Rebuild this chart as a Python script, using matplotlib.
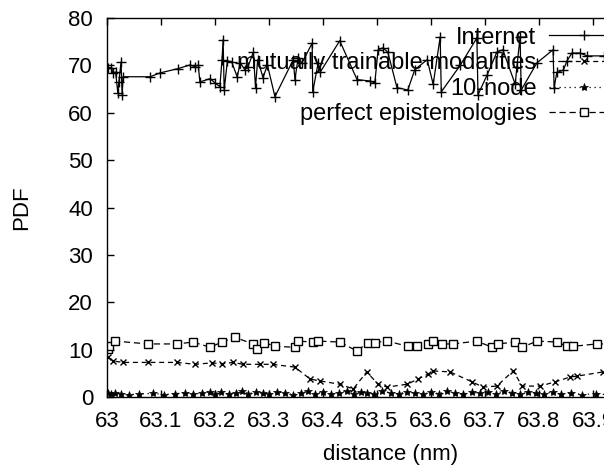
import matplotlib
matplotlib.use("Agg")
import matplotlib.pyplot as plt


# Internet (solid, +)
inet_x = [63.001, 63.008, 63.011, 63.016, 63.020, 63.022, 63.026, 63.028, 63.030,
          63.080, 63.098, 63.131, 63.154, 63.163, 63.169, 63.172, 63.191, 63.200,
          63.209, 63.213, 63.215, 63.217, 63.223, 63.231, 63.241, 63.247, 63.255,
          63.261, 63.271, 63.275, 63.279, 63.289, 63.297, 63.311, 63.345, 63.348,
          63.354, 63.361, 63.380, 63.381, 63.391, 63.395, 63.431, 63.463, 63.487,
          63.496, 63.502, 63.511, 63.520, 63.537, 63.557, 63.570, 63.593, 63.604,
          63.617, 63.619, 63.654, 63.685, 63.687, 63.704, 63.722, 63.733, 63.756,
          63.759, 63.765, 63.767, 63.796, 63.826, 63.828, 63.833, 63.845, 63.852,
          63.861, 63.876, 63.889, 63.921, 63.960, 64.0]
inet_y = [69.5, 69.5, 68.4, 68.6, 64.2, 66.5, 70.7, 63.8, 67.6,
          67.6, 68.4, 69.3, 70.1, 69.7, 70.1, 66.5, 67.2, 66.3,
          65.5, 71.2, 75.4, 64.8, 71.0, 70.7, 67.6, 70.5, 69.1,
          69.7, 72.8, 65.3, 71.2, 67.4, 70.1, 63.4, 71.2, 67.0,
          71.6, 70.5, 74.7, 64.4, 70.5, 68.6, 75.2, 67.0, 66.7,
          66.3, 73.3, 73.7, 72.8, 65.3, 64.8, 69.1, 71.2, 66.0,
          76.0, 64.4, 70.0, 75.8, 63.8, 68.0, 72.8, 73.3, 66.0,
          69.7, 76.0, 64.8, 70.5, 73.3, 65.3, 68.5, 69.0, 71.0,
          72.6, 72.6, 72.0, 72.0, 71.6, 71.4]

# mutually trainable modalities (dashed, x)
mtm_x = [63.002, 63.011, 63.030, 63.076, 63.130, 63.163, 63.194, 63.213, 63.233,
         63.252, 63.283, 63.307, 63.348, 63.376, 63.394, 63.431, 63.456, 63.481,
         63.502, 63.519, 63.556, 63.576, 63.594, 63.604, 63.635, 63.676, 63.696,
         63.722, 63.752, 63.769, 63.802, 63.830, 63.857, 63.870, 63.919, 64.0]
mtm_y = [8.4, 7.6, 7.3, 7.3, 7.3, 6.9, 7.2, 7.0, 7.3,
         6.9, 6.9, 6.9, 6.3, 3.8, 3.4, 2.7, 1.7, 5.3,
         2.7, 2.1, 2.7, 3.8, 4.8, 5.5, 5.3, 3.2, 2.1,
         2.3, 5.5, 2.3, 2.3, 3.2, 4.2, 4.4, 5.3, 5.6]

# 10-node (dotted, *)
node_x = [63.002, 63.008, 63.015, 63.025, 63.040, 63.060, 63.085, 63.105, 63.125,
          63.145, 63.160, 63.175, 63.190, 63.200, 63.212, 63.225, 63.238, 63.250,
          63.262, 63.275, 63.288, 63.300, 63.315, 63.330, 63.345, 63.360, 63.372,
          63.385, 63.400, 63.415, 63.430, 63.445, 63.458, 63.470, 63.482, 63.495,
          63.510, 63.525, 63.540, 63.555, 63.570, 63.585, 63.600, 63.615, 63.630,
          63.645, 63.660, 63.675, 63.690, 63.705, 63.720, 63.735, 63.750, 63.765,
          63.780, 63.795, 63.810, 63.825, 63.840, 63.860, 63.880, 63.905, 63.935,
          63.965, 64.0]
node_y = [0.8, 0.6, 0.9, 0.7, 0.5, 0.6, 0.8, 0.5, 0.7,
          0.9, 0.6, 0.8, 1.1, 0.7, 1.0, 0.6, 0.9, 1.2,
          0.7, 1.0, 0.8, 0.6, 1.1, 0.8, 0.5, 0.9, 1.2,
          0.7, 1.0, 0.6, 0.9, 1.3, 0.7, 1.0, 0.8, 0.6,
          1.2, 0.9, 0.7, 1.1, 0.8, 0.6, 1.0, 0.7, 1.2,
          0.9, 0.6, 1.0, 0.8, 1.1, 0.7, 1.3, 0.9, 0.6,
          1.0, 0.8, 0.7, 1.1, 0.6, 0.9, 0.5, 0.7, 0.4,
          0.6, 0.5]

# perfect epistemologies (dashed, open squares)
pe_x = [63.001, 63.004, 63.015, 63.076, 63.130, 63.159, 63.191, 63.213, 63.237,
        63.270, 63.278, 63.291, 63.311, 63.348, 63.354, 63.381, 63.391, 63.431,
        63.463, 63.483, 63.496, 63.519, 63.557, 63.574, 63.594, 63.604, 63.620,
        63.641, 63.685, 63.713, 63.724, 63.756, 63.769, 63.796, 63.833, 63.852,
        63.863, 63.907, 63.960, 64.0]
pe_y = [10.1, 10.7, 11.8, 11.2, 11.2, 11.6, 10.5, 11.6, 12.6,
        11.2, 10.1, 11.5, 10.7, 10.5, 11.8, 11.6, 11.8, 11.6,
        9.7, 11.5, 11.5, 11.8, 10.7, 10.8, 11.2, 11.8, 11.2,
        11.2, 11.8, 10.5, 11.2, 11.6, 10.5, 11.8, 11.6, 10.7,
        10.7, 11.2, 11.2, 11.0]

x_ticks = [63.0, 63.1, 63.2, 63.3, 63.4, 63.5, 63.6, 63.7, 63.8, 63.9, 64.0]
x_labels = ["63", "63.1", "63.2", "63.3", "63.4", "63.5", "63.6", "63.7", "63.8", "63.9", "64"]
y_ticks = [0, 10, 20, 30, 40, 50, 60, 70, 80]


def main():
    plt.rcParams["font.family"] = ["Liberation Sans", "DejaVu Sans"]
    plt.rcParams["font.size"] = 16

    fig = plt.figure(figsize=(6.04, 4.75), dpi=100)
    # plot area runs past the right edge of the picture, like the original
    ax = fig.add_axes([107 / 604, 78 / 475, 540 / 604, 379 / 475])

    lw = 0.9
    ax.plot(inet_x, inet_y, color="black", lw=lw, ls="-",
            marker="+", ms=7, mew=1, label="Internet")
    ax.plot(mtm_x, mtm_y, color="black", lw=lw, ls=(0, (4, 3)),
            marker="x", ms=5, mew=1, label="mutually trainable modalities")
    ax.plot(node_x, node_y, color="black", lw=lw, ls=(0, (1, 3)),
            marker="*", ms=6, mew=0.5, label="10-node")
    ax.plot(pe_x, pe_y, color="black", lw=lw, ls=(0, (5, 3)),
            marker="s", ms=5.5, mew=1, mfc="white", label="perfect epistemologies")

    ax.set_xlim(63, 64)
    ax.set_ylim(0, 80)
    ax.set_xticks(x_ticks)
    ax.set_xticklabels(x_labels)
    ax.set_yticks(y_ticks)
    ax.tick_params(direction="in", length=5, width=1, top=True, right=True,
                   pad=10, labelsize=16)
    for s in ax.spines.values():
        s.set_linewidth(1)

    ax.set_xlabel("distance (nm)", fontsize=16, labelpad=8)
    ax.xaxis.set_label_coords(0.525, -0.125)
    ax.set_ylabel("PDF", fontsize=16, labelpad=26)

    ax.legend(loc="upper right", bbox_to_anchor=(0.946, 0.977), frameon=False,
              markerfirst=False, handlelength=2.9, handletextpad=0.55,
              labelspacing=0.15, borderpad=0, borderaxespad=0, fontsize=17)

    fig.savefig("out.png", dpi=100)


if __name__ == "__main__":
    main()
